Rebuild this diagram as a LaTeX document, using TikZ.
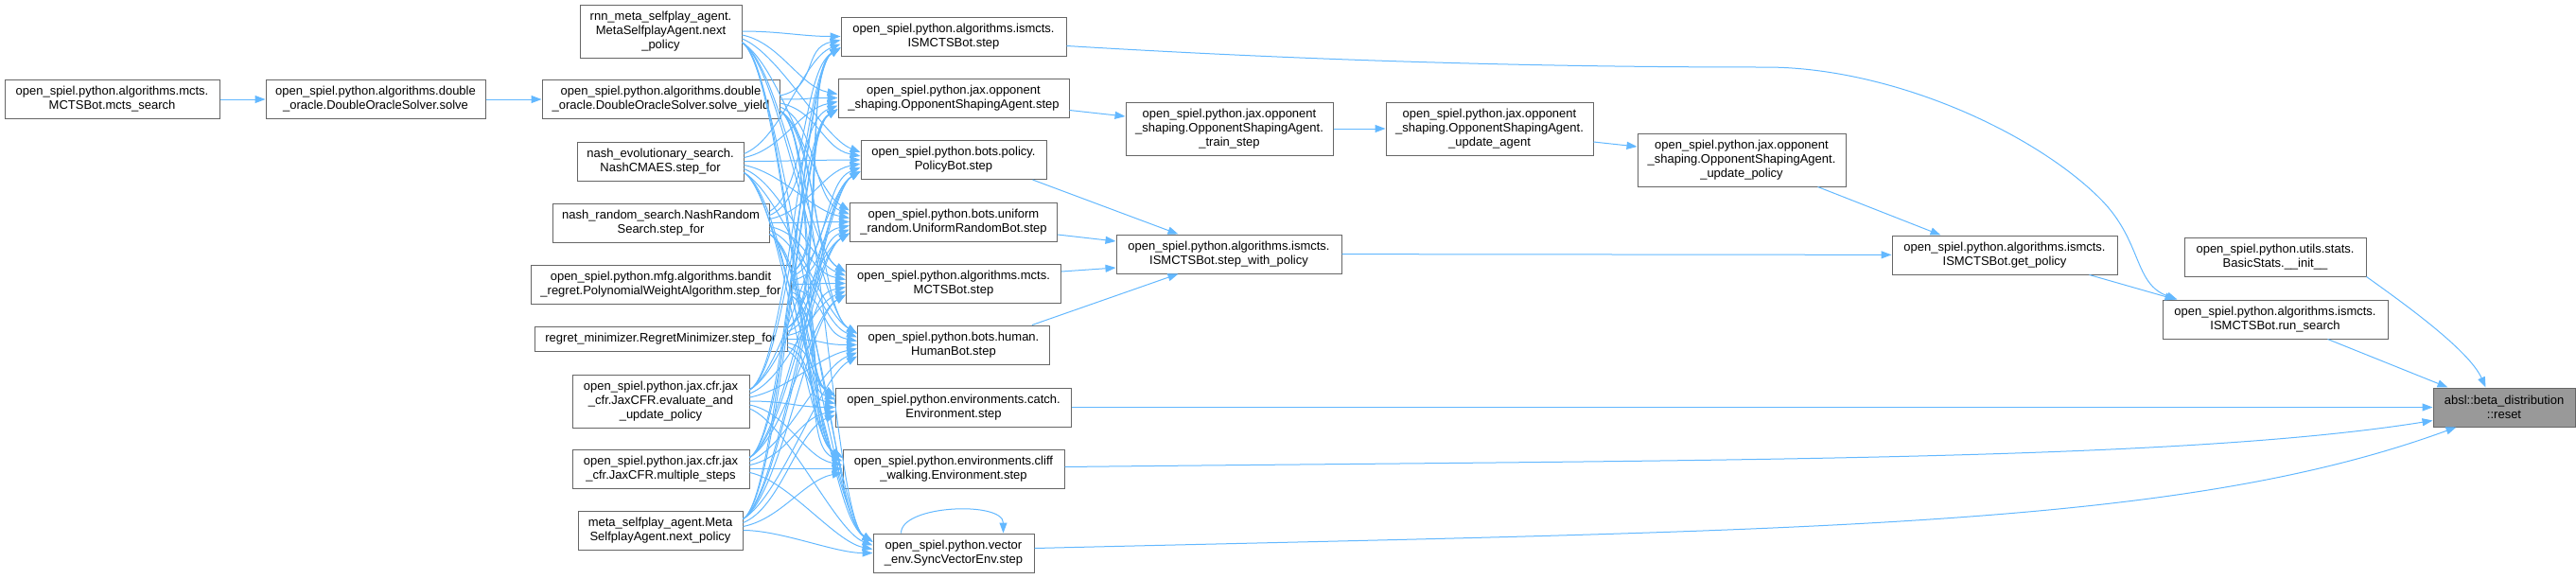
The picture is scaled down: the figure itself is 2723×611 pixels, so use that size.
\documentclass[tikz,border=0pt]{standalone}
\usepackage{fontspec}
\setmainfont{Liberation Sans}
\usepackage{xcolor}
\usepackage{tikz}
\usetikzlibrary{arrows.meta}

\definecolor{edgeblue}{HTML}{63B8FF}
\definecolor{boxgray}{HTML}{666666}
\definecolor{hitgray}{HTML}{999999}

\begin{document}
\begin{tikzpicture}[x=1pt, y=-1pt,
  every node/.style={font=\fontsize{13}{15}\selectfont},
  fnbox/.style={draw=boxgray, line width=1pt, fill=white, align=center, inner sep=2pt, minimum height=41pt},
  tall/.style={minimum height=56pt},
  edge/.style={edgeblue, line width=1pt, -{Triangle[length=11pt, width=8pt]}}]
\useasboundingbox (0,0) rectangle (2723,611);
% Double oracle chain
\node[fnbox, minimum width=227pt] (mctssearch) at (118.5,105) {open\_spiel.python.algorithms.mcts.\\MCTSBot.mcts\_search};
\node[fnbox, minimum width=232pt] (dosolve) at (397,105) {open\_spiel.python.algorithms.double\\\_oracle.DoubleOracleSolver.solve};
% Callers of the step functions
\node[fnbox, tall, minimum width=171pt] (rnnmeta) at (698.5,33) {rnn\_meta\_selfplay\_agent.\\MetaSelfplayAgent.next\\\_policy};
\node[fnbox, minimum width=251pt] (solveyield) at (698.5,105) {open\_spiel.python.algorithms.double\\\_oracle.DoubleOracleSolver.solve\_yield};
\node[fnbox, minimum width=176pt] (nashevo) at (698,170.5) {nash\_evolutionary\_search.\\NashCMAES.step\_for};
\node[fnbox, minimum width=229pt] (nashrand) at (698.5,235.5) {nash\_random\_search.NashRandom\\Search.step\_for};
\node[fnbox, minimum width=275pt] (banditpwa) at (698.5,300.5) {open\_spiel.python.mfg.algorithms.bandit\\\_regret.PolynomialWeightAlgorithm.step\_for};
\node[fnbox, minimum width=267pt, minimum height=26pt] (regretmin) at (698.5,358.5) {regret\_minimizer.RegretMinimizer.step\_for};
\node[fnbox, tall, minimum width=187pt] (jaxeval) at (698.5,424) {open\_spiel.python.jax.cfr.jax\\\_cfr.JaxCFR.evaluate\_and\\\_update\_policy};
\node[fnbox, minimum width=187pt] (jaxmulti) at (698.5,495.5) {open\_spiel.python.jax.cfr.jax\\\_cfr.JaxCFR.multiple\_steps};
\node[fnbox, minimum width=174pt] (metaself) at (698,560.5) {meta\_selfplay\_agent.Meta\\SelfplayAgent.next\_policy};
% Step functions
\node[fnbox, minimum width=238pt] (ismctsstep) at (1008,38.5) {open\_spiel.python.algorithms.ismcts.\\ISMCTSBot.step};
\node[fnbox, minimum width=244pt] (oppstep) at (1008,103.5) {open\_spiel.python.jax.opponent\\\_shaping.OpponentShapingAgent.step};
\node[fnbox, minimum width=196pt] (policystep) at (1008,169) {open\_spiel.python.bots.policy.\\PolicyBot.step};
\node[fnbox, minimum width=219pt] (uniformstep) at (1008,234.5) {open\_spiel.python.bots.uniform\\\_random.UniformRandomBot.step};
\node[fnbox, minimum width=227pt] (mctsstep) at (1008,299.5) {open\_spiel.python.algorithms.mcts.\\MCTSBot.step};
\node[fnbox, minimum width=203pt] (humanstep) at (1008,364.5) {open\_spiel.python.bots.human.\\HumanBot.step};
\node[fnbox, minimum width=249pt] (catchstep) at (1008,430.5) {open\_spiel.python.environments.catch.\\Environment.step};
\node[fnbox, minimum width=234pt] (cliffstep) at (1008,495.5) {open\_spiel.python.environments.cliff\\\_walking.Environment.step};
\node[fnbox, minimum width=170pt] (syncstep) at (1008,584.5) {open\_spiel.python.vector\\\_env.SyncVectorEnv.step};
% Right part
\node[fnbox, tall, minimum width=219pt] (trainstep) at (1299.5,136) {open\_spiel.python.jax.opponent\\\_shaping.OpponentShapingAgent.\\\_train\_step};
\node[fnbox, tall, minimum width=219pt] (updagent) at (1574.5,136) {open\_spiel.python.jax.opponent\\\_shaping.OpponentShapingAgent.\\\_update\_agent};
\node[fnbox, minimum width=238pt] (stepwp) at (1299,268.5) {open\_spiel.python.algorithms.ismcts.\\ISMCTSBot.step\_with\_policy};
\node[fnbox, tall, minimum width=220pt] (updpolicy) at (1841,169) {open\_spiel.python.jax.opponent\\\_shaping.OpponentShapingAgent.\\\_update\_policy};
\node[fnbox, minimum width=238pt] (getpolicy) at (2119,269.5) {open\_spiel.python.algorithms.ismcts.\\ISMCTSBot.get\_policy};
\node[fnbox, minimum width=192pt] (basicinit) at (2405,271.5) {open\_spiel.python.utils.stats.\\BasicStats.\_\_init\_\_};
\node[fnbox, minimum width=238pt] (runsearch) at (2405,337.5) {open\_spiel.python.algorithms.ismcts.\\ISMCTSBot.run\_search};
\node[fnbox, fill=hitgray, minimum width=150pt] (betareset) at (2647,430.5) {absl::beta\_distribution\\::reset};

% Edges
\draw[edge] (mctssearch) -- (dosolve);
\draw[edge] (dosolve) -- (solveyield);
% every caller reaches every step function
\foreach \src [count=\i] in {rnnmeta,solveyield,nashevo,nashrand,banditpwa,regretmin,jaxeval,jaxmulti,metaself}
  \foreach \dst [count=\j] in {ismctsstep,oppstep,policystep,uniformstep,mctsstep,humanstep,catchstep,cliffstep,syncstep} {
    \pgfmathsetmacro\dy{max(-12,min(12,4*(\i-\j)))}
    \pgfmathsetmacro\dz{max(-12,min(12,4*(\j-\i)))}
    \pgfmathsetmacro\ca{2*\dz}
    \pgfmathsetmacro\cb{2*\dy}
    \draw[edge] ([yshift=\dy pt]\src.east) .. controls +(40,\ca) and +(-40,\cb) .. ([yshift=\dz pt]\dst.west);
  }
\draw[edge] ([yshift=-10pt]ismctsstep.east) .. controls (1450,68) and (1700,71) .. (1866,71)
  .. controls (2000,71) and (2150,140) .. (2220,210) .. controls (2265,255) and (2255,300) .. ([xshift=16pt]runsearch.north west);
\draw[edge] ([yshift=-13pt]oppstep.east) -- ([yshift=13pt]trainstep.west);
\draw[edge] (trainstep) -- (updagent);
\draw[edge] ([yshift=-14pt]updagent.east) -- ([yshift=14pt]updpolicy.west);
\draw[edge] ([xshift=-30pt]updpolicy.south east) -- ([xshift=52pt]getpolicy.north west);
\draw[edge] ([xshift=-15pt]policystep.south east) -- ([xshift=66pt]stepwp.north west);
\draw[edge] ([yshift=-13.5pt]uniformstep.east) -- ([yshift=13.5pt]stepwp.west);
\draw[edge] ([yshift=12.5pt]mctsstep.east) -- ([yshift=-14.5pt]stepwp.west);
\draw[edge] ([xshift=-19pt]humanstep.north east) -- ([xshift=66pt]stepwp.south west);
\draw[edge] (stepwp) -- (getpolicy);
\draw[edge] ([xshift=-30pt]getpolicy.south east) -- ([xshift=14pt]runsearch.north west);
% into reset
\draw[edge] ([xshift=-64pt]runsearch.south east) -- ([xshift=16pt]betareset.north west);
\draw[edge] (basicinit.south east) .. controls (2540,320) and (2610,370) .. ([xshift=56pt]betareset.north west);
\draw[edge] (catchstep) -- (betareset);
\draw[edge] ([yshift=2pt]cliffstep.east) .. controls (1800,486) and (2300,488) .. ([yshift=-14pt]betareset.west);
\draw[edge] ([yshift=5pt]syncstep.east) .. controls (1900,560) and (2300,560) .. ([xshift=25pt]betareset.south west);
\draw[edge] ([xshift=30pt]syncstep.north west) .. controls +(0,-30) and +(0,-34) .. ([xshift=-33pt]syncstep.north east);
\end{tikzpicture}
\end{document}
